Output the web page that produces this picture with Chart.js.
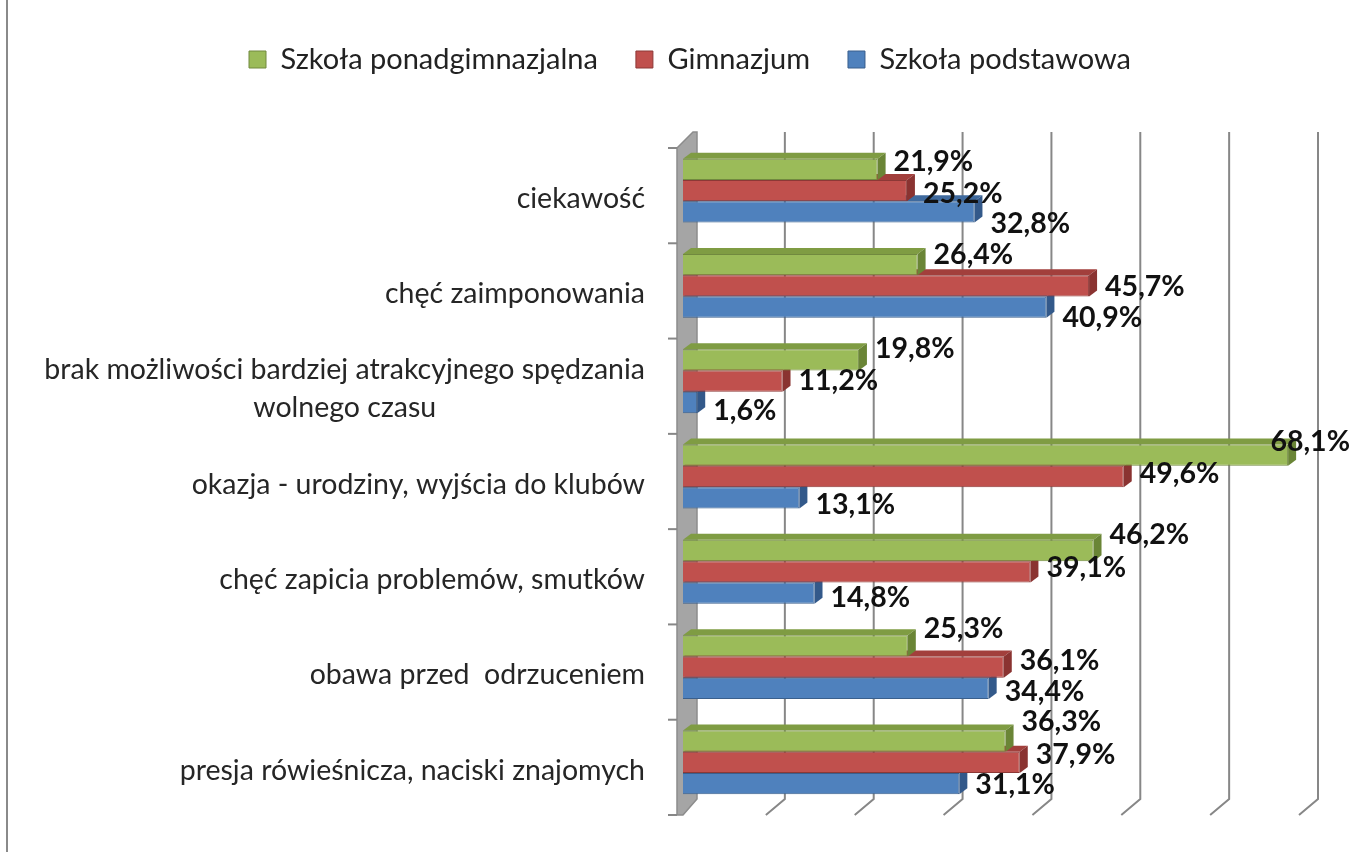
<!DOCTYPE html>
<html><head><meta charset="utf-8">
<script src="https://cdn.jsdelivr.net/npm/chart.js@4.4.1/dist/chart.umd.min.js"></script>
<style>html,body{margin:0;padding:0;background:#fff;}#wrap{width:1352px;height:852px;position:relative;}</style>
</head><body><div id="wrap"><canvas id="c" width="1352" height="852"></canvas></div>
<script>
const categories = [
  'ciekawość',
  'chęć zaimponowania',
  ['brak możliwości bardziej atrakcyjnego spędzania', 'wolnego czasu'],
  'okazja - urodziny, wyjścia do klubów',
  'chęć zapicia problemów, smutków',
  'obawa przed  odrzuceniem',
  'presja rówieśnicza, naciski znajomych'
];
const seriesNames = ['Szkoła ponadgimnazjalna', 'Gimnazjum', 'Szkoła podstawowa'];
const ponadgimnazjalna = [21.9, 26.4, 19.8, 68.1, 46.2, 25.3, 36.3];
const gimnazjum = [25.2, 45.7, 11.2, 49.6, 39.1, 36.1, 37.9];
const podstawowa = [32.8, 40.9, 1.6, 13.1, 14.8, 34.4, 31.1];
const axisMin = 0, axisMax = 70, axisStep = 10;

const fronts = ['#9bbb59', '#c0504d', '#4f81bd'];
const tops = ['#7f9c43', '#a23f3c', '#3f6a9e'];
const sides = ['#6a8536', '#8a3331', '#33598a'];
const borders = ['#71893f', '#8c3836', '#3a5f8c'];

const BD = {dx: 8, dy: -6};     // bar depth
const WD = {dx: 19, dy: -16};   // wall depth
const CAT_FONT = '28.5px Lato';
const LABEL_FONT = 'bold 28.5px Lato';

function fmt(v){ return v.toFixed(1).replace('.', ',') + '%'; }

const scene = {
  id: 'scene',
  beforeDatasetsDraw(chart) {
    const ctx = chart.ctx, xs = chart.scales.x, ys = chart.scales.y, ca = chart.chartArea;
    const top = ca.top + 5, bottom = ca.bottom + 5;
    const x0 = xs.getPixelForValue(0) - 6;
    ctx.save();
    // outer frame line
    ctx.fillStyle = '#8a8a8a';
    ctx.fillRect(6, 0, 2, 852);
    // back gridlines and floor lines
    ctx.strokeStyle = '#878787';
    ctx.lineWidth = 2;
    for (let v = axisMin + axisStep; v <= axisMax; v += axisStep) {
      const xf = xs.getPixelForValue(v) - 6;
      ctx.beginPath();
      ctx.moveTo(xf + WD.dx, top + WD.dy);
      ctx.lineTo(xf + WD.dx, bottom + WD.dy);
      ctx.lineTo(xf, bottom);
      ctx.stroke();
    }
    // left wall
    ctx.fillStyle = '#a5a5a5';
    ctx.strokeStyle = '#8c8c8c';
    ctx.lineWidth = 1.5;
    ctx.beginPath();
    ctx.moveTo(x0, top);
    ctx.lineTo(x0 + WD.dx - 3, top + WD.dy);
    ctx.lineTo(x0 + WD.dx + 1, top + WD.dy);
    ctx.lineTo(x0 + WD.dx + 1, bottom + WD.dy);
    ctx.lineTo(x0 + 6, bottom);
    ctx.lineTo(x0, bottom);
    ctx.closePath();
    ctx.fill(); ctx.stroke();
    // category tick marks
    ctx.strokeStyle = '#878787';
    ctx.lineWidth = 2;
    const n = categories.length;
    for (let i = 0; i <= n; i++) {
      const y = top + (bottom - top) * i / n;
      ctx.beginPath();
      ctx.moveTo(x0 - 9, y);
      ctx.lineTo(x0, y);
      ctx.stroke();
    }
    // category labels (multi-line labels centred on their widest line)
    ctx.font = CAT_FONT;
    ctx.fillStyle = '#262626';
    ctx.textBaseline = 'middle';
    ctx.textAlign = 'center';
    const xRight = x0 - 32;
    const lineH = 38;
    categories.forEach((lab, i) => {
      const lines = Array.isArray(lab) ? lab : [lab];
      const maxW = Math.max(...lines.map(l => ctx.measureText(l).width));
      const yc = ys.getPixelForValue(i) + 8;
      lines.forEach((l, k) => {
        const y = yc + (k - (lines.length - 1) / 2) * lineH;
        ctx.fillText(l, xRight - maxW / 2, y);
      });
    });
    // 3D faces of bars (bottom series first)
    for (let d = chart.data.datasets.length - 1; d >= 0; d--) {
      const meta = chart.getDatasetMeta(d);
      meta.data.forEach(bar => {
        const h = bar.height, t = bar.y - h / 2, b = bar.y + h / 2;
        const xb = bar.base, xe = bar.x;
        ctx.fillStyle = tops[d];
        ctx.beginPath();
        ctx.moveTo(xb, t); ctx.lineTo(xb + BD.dx, t + BD.dy);
        ctx.lineTo(xe + BD.dx, t + BD.dy); ctx.lineTo(xe, t);
        ctx.closePath(); ctx.fill();
        ctx.fillStyle = sides[d];
        ctx.beginPath();
        ctx.moveTo(xe, t); ctx.lineTo(xe + BD.dx, t + BD.dy);
        ctx.lineTo(xe + BD.dx, b + BD.dy); ctx.lineTo(xe, b);
        ctx.closePath(); ctx.fill();
      });
    }
    ctx.restore();
  },
  afterDatasetsDraw(chart) {
    const ctx = chart.ctx;
    ctx.save();
    ctx.font = LABEL_FONT;
    ctx.fillStyle = '#111';
    ctx.textBaseline = 'middle';
    ctx.textAlign = 'left';
    const base = [-8, 3, 12];
    chart.data.datasets.forEach((ds, d) => {
      chart.getDatasetMeta(d).data.forEach((bar, i) => {
        const txt = fmt(ds.data[i]);
        const w = ctx.measureText(txt).width;
        let x = bar.x + 16;
        if (x + w > chart.width - 2) x = chart.width - 2 - w;
        const y = bar.y + base[d] - 1.8 * i;
        ctx.fillText(txt, x, y);
      });
    });
    ctx.restore();
  }
};

const legendGap = {
  id: 'legendGap',
  beforeInit(chart) {
    const fit = chart.legend.fit;
    chart.legend.fit = function() { fit.bind(chart.legend)(); this.height += 59; };
  }
};

new Chart(document.getElementById('c'), {
  type: 'bar',
  data: {
    labels: categories,
    datasets: [
      {label: seriesNames[0], data: ponadgimnazjalna, backgroundColor: fronts[0], borderColor: borders[0], borderWidth: 1},
      {label: seriesNames[1], data: gimnazjum, backgroundColor: fronts[1], borderColor: borders[1], borderWidth: 1},
      {label: seriesNames[2], data: podstawowa, backgroundColor: fronts[2], borderColor: borders[2], borderWidth: 1}
    ]
  },
  options: {
    indexAxis: 'y',
    responsive: false,
    animation: false,
    events: [],
    categoryPercentage: 0.67,
    barPercentage: 1.0,
    layout: {padding: {top: 7, bottom: 42, left: 75, right: 47}},
    plugins: {
      tooltip: {enabled: false},
      legend: {
        position: 'top',
        labels: {font: {family: 'Lato', size: 29}, color: '#222', boxWidth: 17, boxHeight: 17, padding: 38}
      }
    },
    scales: {
      x: {display: false, min: axisMin, max: axisMax},
      y: {
        afterFit(s) { s.width = 608; s.paddingTop = 0; s.paddingBottom = 0; },
        grid: {display: false, drawTicks: false},
        border: {display: false},
        ticks: {display: false}
      }
    }
  },
  plugins: [scene, legendGap]
});
</script></body></html>
